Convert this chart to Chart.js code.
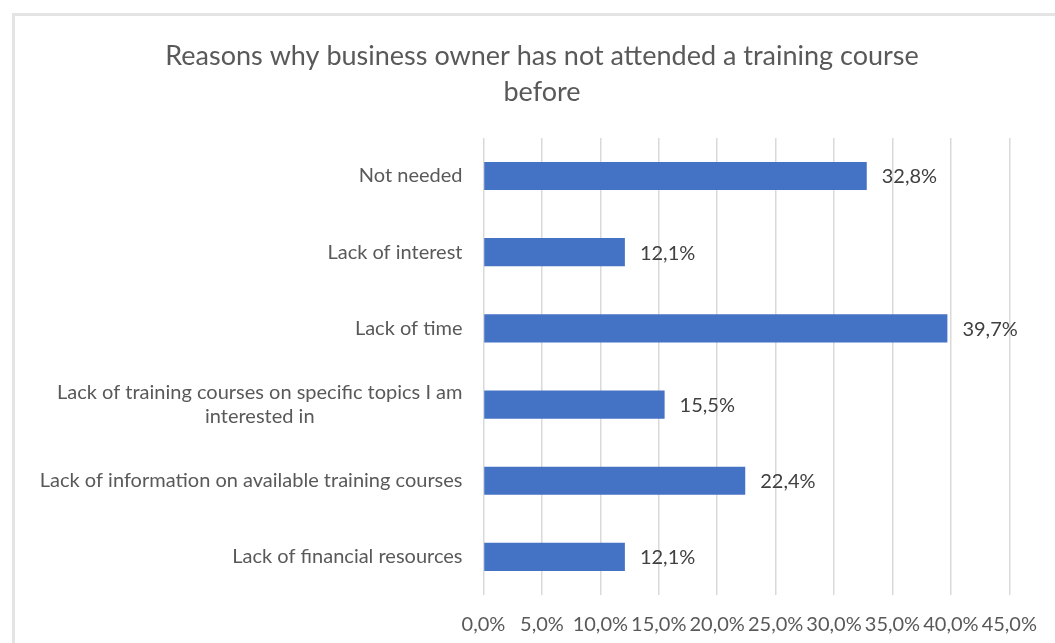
<!DOCTYPE html>
<html>
<head>
<meta charset="utf-8">
<title>Training course reasons</title>
<script src="https://cdn.jsdelivr.net/npm/chart.js"></script>
<style>
    html, body { margin: 0; padding: 0; background: #fff; }
    #wrap { position: relative; width: 1055px; height: 643px; overflow: hidden; }
    #frame {
        position: absolute; left: 12px; top: 13px; right: -10px; bottom: -10px;
        border-top: 3px solid #e4e4e4; border-left: 3px solid #e4e4e4;
    }
    canvas { position: absolute; left: 0; top: 0; }
</style>
</head>
<body>
<div id="wrap">
    <div id="frame"></div>
    <canvas id="chart" width="1055" height="643"></canvas>
</div>
<script>
const FONT = 'Lato, "Open Sans", sans-serif';

const titleLines = ['Reasons why business owner has not attended a training course', 'before'];

const reasons = [
    'Not needed',
    'Lack of interest',
    'Lack of time',
    ['Lack of training courses on specific topics I am', 'interested in'],
    'Lack of information on available training courses',
    'Lack of financial resources'
];

const shares = [32.8, 12.1, 39.7, 15.5, 22.4, 12.1];

const axisMin = 0;
const axisMax = 45;
const axisStep = 5;

const pct = v => v.toFixed(1).replace('.', ',') + '%';

// category names drawn by hand so wrapped lines stay centered under each other
const categoryLabels = {
    id: 'categoryLabels',
    afterDraw(chart) {
        const ctx = chart.ctx;
        const y = chart.scales.y;
        const right = chart.chartArea.left - 21;
        ctx.save();
        ctx.font = '20px ' + FONT;
        ctx.fillStyle = '#595959';
        ctx.textBaseline = 'middle';
        reasons.forEach((label, i) => {
            const cy = y.getPixelForTick(i);
            const lines = Array.isArray(label) ? label : [label];
            const lh = 24;
            const w = Math.max(...lines.map(l => ctx.measureText(l).width));
            const cx = right - w / 2;
            ctx.textAlign = 'center';
            lines.forEach((l, k) => {
                ctx.fillText(l, cx, cy + (k - (lines.length - 1) / 2) * lh);
            });
        });
        ctx.restore();
    }
};

// value labels just past the end of each bar
const valueLabels = {
    id: 'valueLabels',
    afterDatasetsDraw(chart) {
        const ctx = chart.ctx;
        const meta = chart.getDatasetMeta(0);
        ctx.save();
        ctx.font = '20px ' + FONT;
        ctx.fillStyle = '#404040';
        ctx.textAlign = 'left';
        ctx.textBaseline = 'middle';
        meta.data.forEach((bar, i) => {
            ctx.fillText(pct(shares[i]), bar.x + 15, bar.y + 1);
        });
        ctx.restore();
    }
};

new Chart(document.getElementById('chart'), {
    type: 'bar',
    data: {
        labels: reasons,
        datasets: [{
            data: shares,
            backgroundColor: '#4472C4',
            borderWidth: 0,
            categoryPercentage: 0.5,
            barPercentage: 0.74
        }]
    },
    options: {
        indexAxis: 'y',
        responsive: false,
        animation: false,
        devicePixelRatio: 1,
        layout: { padding: { left: 70, right: 41, top: 38, bottom: 6 } },
        plugins: {
            legend: { display: false },
            tooltip: { enabled: false },
            title: {
                display: true,
                text: titleLines,
                color: '#595959',
                font: { family: FONT, size: 27, weight: 'normal', lineHeight: 1.35 },
                padding: { top: 0, bottom: 27 }
            }
        },
        scales: {
            x: {
                min: axisMin,
                max: axisMax,
                border: { display: false },
                grid: { color: '#d9d9d9', lineWidth: 1.5, drawTicks: false },
                ticks: {
                    stepSize: axisStep,
                    padding: 18,
                    color: '#595959',
                    font: { family: FONT, size: 20 },
                    maxRotation: 0,
                    autoSkip: false,
                    callback: v => pct(v)
                },
                afterFit(scale) { scale.height = 42; }
            },
            y: {
                border: { display: false },
                grid: { display: false, drawTicks: false },
                ticks: { display: false },
                afterFit(scale) { scale.width = 413.5; }
            }
        }
    },
    plugins: [categoryLabels, valueLabels]
});
</script>
</body>
</html>
